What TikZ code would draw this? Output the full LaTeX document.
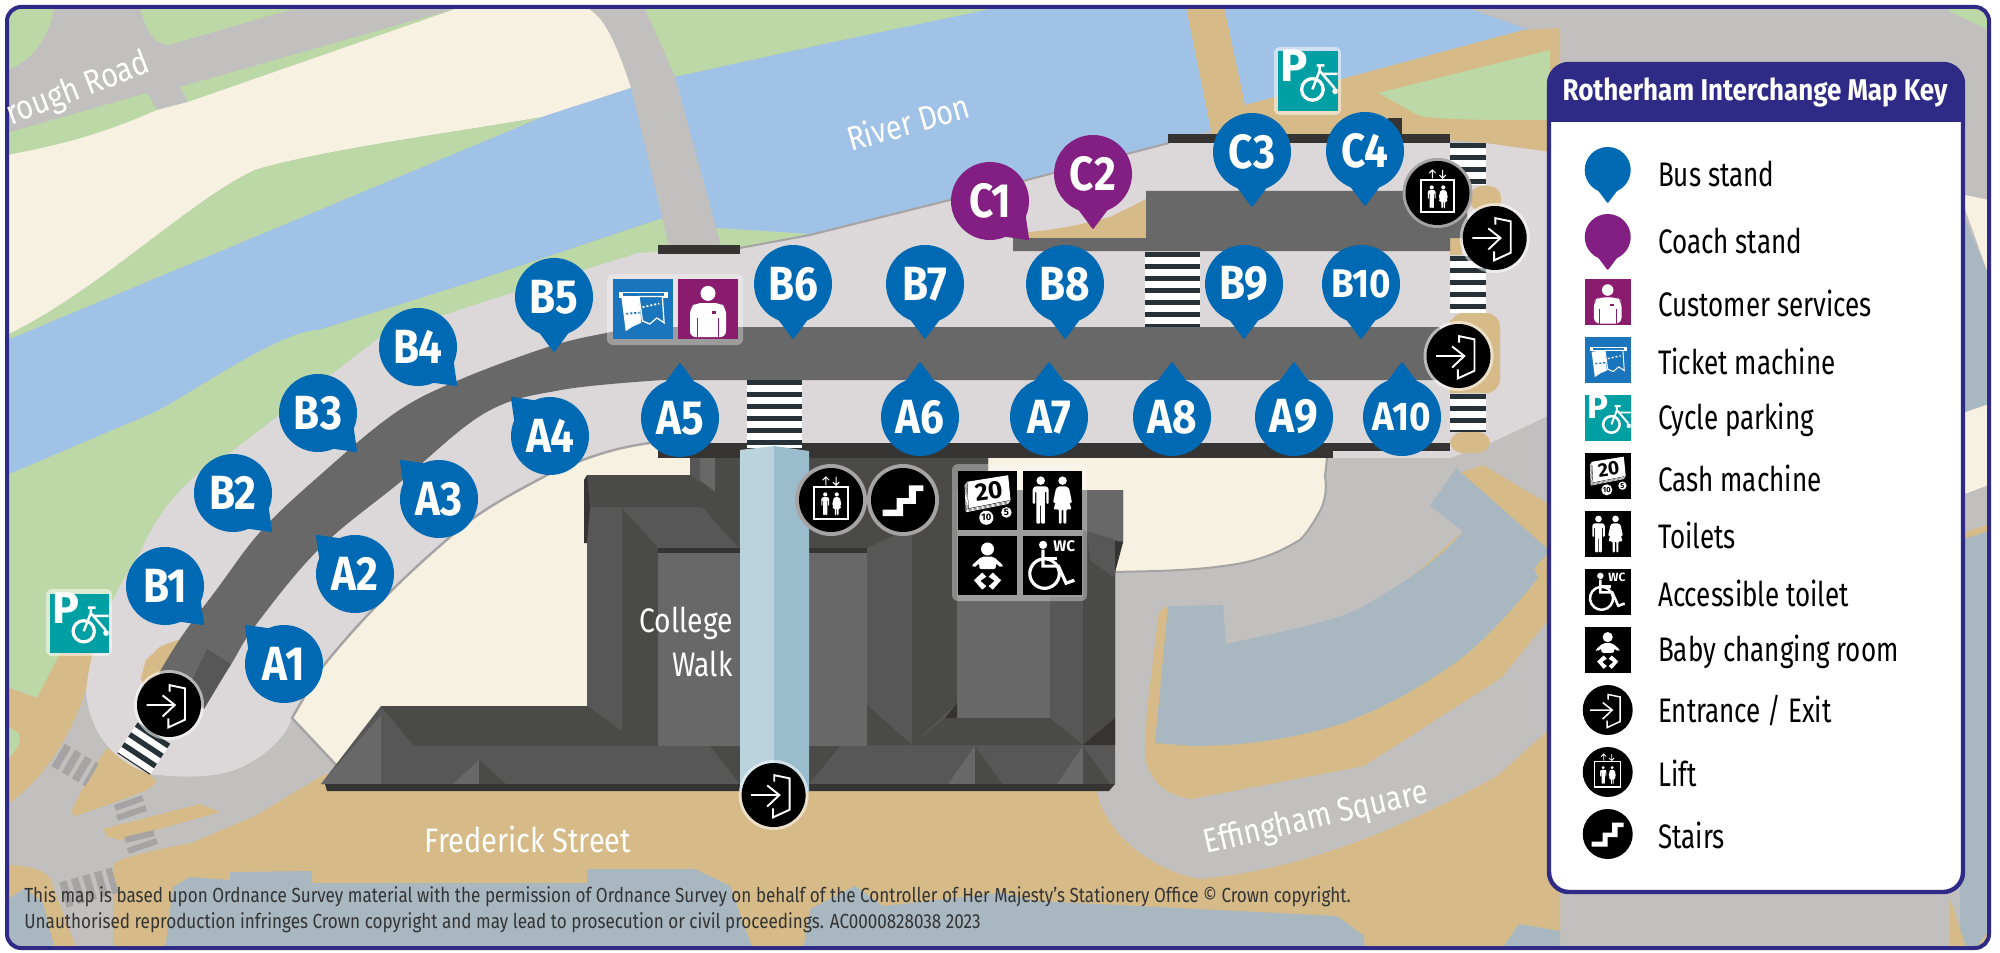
\documentclass[tikz,border=0pt]{standalone}
\usepackage{fontspec}
\setmainfont{Fira Sans}
\usetikzlibrary{calc}

\definecolor{roadgrey}{HTML}{C1C0BE}
\definecolor{parkgreen}{HTML}{BCD8A7}
\definecolor{creamland}{HTML}{F7F1E1}
\definecolor{riverblue}{HTML}{A1C2E7}
\definecolor{pavetan}{HTML}{D6BB88}
\definecolor{platform}{HTML}{DCD7D8}
\definecolor{slateblue}{HTML}{A9B7C0}
\definecolor{edgegrey}{HTML}{A5A3A3}
\definecolor{roofa}{HTML}{686868}
\definecolor{roofb}{HTML}{575757}
\definecolor{roofc}{HTML}{4A4A48}
\definecolor{roofd}{HTML}{353432}
\definecolor{glassa}{HTML}{BAD3DD}
\definecolor{glassb}{HTML}{9ABCCD}
\definecolor{zebradark}{HTML}{263238}
\definecolor{busblue}{HTML}{0069B4}
\definecolor{coachpurple}{HTML}{831F82}
\definecolor{servpurple}{HTML}{8A1C6E}
\definecolor{ticketblue}{HTML}{1A75BC}
\definecolor{cycleteal}{HTML}{009FA3}
\definecolor{navy}{HTML}{2E2A86}

% text squeezed sideways, as the map font is narrow
\newcommand{\nar}[2]{\scalebox{#1}[1]{#2}}
% zebra crossing: width, start, end
\newcommand{\zebra}[3]{\draw[white,line width=#1] #2 -- #3; \draw[zebradark,line width=#1,dash pattern=on 2.7pt off 3.3pt] #2 -- #3;}
% stand pin: name, x, y, tip angle, colour, size, label
\newcommand{\standpin}[6]{%
  \fill[#5,line join=round,line width=1pt,draw=#5] (#2,#3) ++(#4-27:#6*0.92) -- ($(#2,#3)+(#4:#6*1.38)$) -- ($(#2,#3)+(#4+27:#6*0.92)$) -- cycle;
  \node[circle,inner sep=0pt,fill=#5,minimum size=#6*1pt] (#1) at (#2,#3) {};}
% icon: pic name, x, y, size
\newcommand{\icon}[4]{\pgfmathsetlengthmacro{\iconlw}{#4*0.015}\pic[scale=#4/100] at (#2,#3) {#1};}
\newcommand{\manfig}[3]{\begin{scope}[shift={(#1,#2)},scale=#3]
  \fill[white] (0,-41) circle (9);
  \fill[white,rounded corners=0.5pt] (-12,-29) -- (12,-29) -- (17,-24) -- (17,8) -- (12,8) -- (12,-18) -- (9,-18) -- (9,50) -- (1,50) -- (1,10) -- (-1,10) -- (-1,50) -- (-9,50) -- (-9,-18) -- (-12,-18) -- (-12,8) -- (-17,8) -- (-17,-24) -- cycle;
\end{scope}}
\newcommand{\womanfig}[3]{\begin{scope}[shift={(#1,#2)},scale=#3]
  \fill[white] (0,-41) circle (9);
  \fill[white,rounded corners=0.5pt] (-8,-29) -- (8,-29) -- (14,-24) -- (20,5) -- (15,7) -- (9,-15) -- (19,20) -- (8,20) -- (8,50) -- (2,50) -- (2,20) -- (-2,20) -- (-2,50) -- (-8,50) -- (-8,20) -- (-19,20) -- (-9,-15) -- (-15,7) -- (-20,5) -- (-14,-24) -- cycle;
\end{scope}}

\tikzset{
  backpanel/.style={fill=white,fill opacity=0.35,rounded corners=3pt},
  maplabel/.style={text=white,inner sep=0pt,font=\fontsize{17}{17}\selectfont},
  pinlabel/.style={text=white,inner sep=0pt,font=\fontsize{24}{24}\selectfont\bfseries},
  keylabel/.style={anchor=west,inner sep=0pt,font=\fontsize{17}{17}\selectfont},
  ringgrey/.style={fill=edgegrey},
  ringpale/.style={fill=white,fill opacity=0.55},
  doorpic/.pic={
    \fill[black] (0,0) circle (50);
    \draw[white,line width=\iconlw] (-35,0) -- (9,0) (-10,-15) -- (9,0) -- (-10,18);
    \draw[white,line width=\iconlw] (1,-21) -- (1,-31) -- (25,-26) -- (25,23) -- (-1,35) -- (-1,21);
  },
  liftpic/.pic={
    \fill[black] (0,0) circle (50);
    \draw[white,line width=\iconlw] (-26,-21) rectangle (26,30);
    \manfig{-9}{6}{.36}
    \womanfig{9}{6}{.36}
    \draw[white,line width=0.5*\iconlw] (-8,-36) -- (-8,-23) (-13,-31) -- (-8,-36) -- (-3,-31);
    \draw[white,line width=0.5*\iconlw] (8,-36) -- (8,-23) (3,-28) -- (8,-23) -- (13,-28);
  },
  stairpic/.pic={
    \fill[black] (0,0) circle (50);
    \fill[white] (-32,15) -- (-10,15) -- (-10,-3) -- (9,-3) -- (9,-23) -- (32,-23) -- (32,-14) -- (20,-14) -- (20,6) -- (0,6) -- (0,25) -- (-32,25) -- cycle;
  },
  servpic/.pic={
    \fill[servpurple] (-50,-50) rectangle (50,50);
    \fill[white] (0,-26) circle (12.5);
    \fill[white,rounded corners=3pt] (-30,47) -- (-30,-2) -- (-20,-10) -- (20,-10) -- (30,-2) -- (30,47) -- cycle;
    \draw[servpurple,line width=0.6*\iconlw] (-18,47) -- (-18,15) (18,47) -- (18,15);
    \fill[servpurple] (6,4) rectangle (14,8);
  },
  ticketpic/.pic={
    \fill[ticketblue] (-50,-50) rectangle (50,50);
    \fill[white] (-39,-28) rectangle (42,-19);
    \fill[ticketblue] (-33,-26) rectangle (36,-22);
    \fill[white] (-35,-18) -- (-6,-21) -- (-2,23) -- (-16,29) -- (-28,37) -- cycle;
    \draw[white,line width=0.7*\iconlw,fill=ticketblue] (-6,-21) -- (33,-21) -- (36,23) -- (24,15) -- (12,25) -- (0,20) -- cycle;
    \draw[white,line width=\iconlw,dash pattern=on 1pt off 1pt] (0,-3) -- (28,-9);
    \draw[ticketblue,line width=\iconlw,dash pattern=on 1pt off 1pt] (-27,8) -- (-5,6);
  },
  cyclepic/.pic={
    \fill[cycleteal] (-50,-50) rectangle (50,50);
    \node[transform shape,text=white,inner sep=0pt,font=\fontsize{38}{38}\selectfont\bfseries] (cycleP) at (-22,-25) {P};
    \begin{scope}
      \clip (-50,-50) rectangle (50,50);
      \draw[white,line width=1.8*\iconlw] (8,14) circle (18);
      \draw[white,line width=1.4*\iconlw] (8,14) -- (20,-17) -- (45,12) (15,-26) -- (28,-26) (20,-26) -- (20,-17) (23,-12) -- (50,-12);
      \fill[white] (46,17) circle (5);
    \end{scope}
  },
  cashpic/.pic={
    \fill[black] (-50,-50) rectangle (50,50);
    \foreach \dd in {6,4,2}{
      \draw[white,fill=black,line width=0.4*\iconlw] ($(-34,-31)+(-\dd*.7,\dd)$) -- ($(35,-42)+(-\dd*.7,\dd)$) -- ($(39,0)+(-\dd*.7,\dd)$) -- ($(-32,14)+(-\dd*.7,\dd)$) -- cycle;}
    \fill[white] (-34,-31) -- (35,-42) -- (39,0) -- (-32,14) -- cycle;
    \node[transform shape,rotate=8,text=black,inner sep=0pt,font=\fontsize{21}{21}\selectfont\bfseries] (cash20) at (2,-15) {20};
    \node[transform shape,circle,fill=white,inner sep=0pt,minimum size=12pt,text=black,font=\fontsize{8}{8}\selectfont\bfseries] (cash10) at (-2,30) {10};
    \node[transform shape,circle,fill=white,inner sep=0pt,minimum size=9pt,text=black,font=\fontsize{8}{8}\selectfont\bfseries] (cash5) at (32,21) {5};
  },
  toiletpic/.pic={
    \fill[black] (-50,-50) rectangle (50,50);
    \manfig{-20}{0}{.8}
    \womanfig{17}{0}{.8}
  },
  babypic/.pic={
    \fill[black] (-50,-50) rectangle (50,50);
    \fill[white] (0,-28) circle (11);
    \fill[white,rounded corners=1pt] (-10,-15) -- (10,-15) -- (27,0) -- (23,4) -- (14,-4) -- (14,6) -- (-14,6) -- (-14,-4) -- (-23,4) -- (-27,0) -- cycle;
    \fill[white] (-23,25) -- (-9,12) -- (-2,19) -- (-12,26) -- (-2,35) -- (-9,41) -- cycle;
    \fill[white] (23,25) -- (9,12) -- (2,19) -- (12,26) -- (2,35) -- (9,41) -- cycle;
  },
  wheelpic/.pic={
    \fill[black] (-50,-50) rectangle (50,50);
    \fill[white] (-16,-35) circle (7);
    \draw[white,line width=1.8*\iconlw] (-16,-27) -- (-16,1) -- (10,1) -- (23,30) -- (37,25);
    \draw[white,line width=1.8*\iconlw] (-16,-12) -- (8,-12);
    \draw[white,line width=1.8*\iconlw] (-26,-8) arc (-120:240:25);
    \node[transform shape,text=white,inner sep=0pt,font=\fontsize{13}{13}\selectfont\bfseries] (wcmark) at (20,-32) {WC};
  }
}

\begin{document}
\begin{tikzpicture}[x=0.5pt,y=-0.5pt]
  \useasboundingbox (0,0) rectangle (2000,952);
  \fill[white] (0,0) rectangle (2000,952);

  \begin{scope}
    \clip[rounded corners=7pt] (7,7) rectangle (1989,948);
    \fill[roadgrey] (0,0) rectangle (2000,952);

    %land north of the river
    \fill[parkgreen] (7,7) -- (54,7) .. controls (50,35) and (35,60) .. (7,70) -- cycle;
    \fill[parkgreen] (140,7) .. controls (145,30) and (155,45) .. (169,45) -- (299,7) -- cycle;
    \fill[parkgreen] (7,133) -- (147,93) -- (157,110) .. controls (100,135) and (60,145) .. (7,155) -- cycle;
    \fill[parkgreen] (180,87) -- (461,7) -- (188,102) -- cycle;
    \fill[creamland] (7,155) .. controls (60,145) and (100,135) .. (157,110) -- (188,102) -- (461,7) -- (587,7) .. controls (600,15) and (612,30) .. (631,88) -- (542,117) .. controls (470,130) and (320,150) .. (255,170) .. controls (190,200) and (100,290) .. (7,335) -- cycle;
    \fill[parkgreen] (644,7) -- (1005,7) -- (829,43) -- (675,77) -- cycle;

    %the river and its south bank
    \fill[riverblue] (7,340) -- (319,210) -- (542,117) -- (631,88) -- (675,77) -- (829,43) -- (1000,7) -- (1464,7) -- (1530,30) -- (1245,120) -- (1169,143) -- (950,200) -- (810,235) -- (740,250) -- (663,218) -- (478,280) -- (319,330) -- (242,373) -- (153,413) -- (7,475) -- cycle;
    \fill[parkgreen] (7,475) -- (153,413) .. controls (190,395) and (280,330) .. (319,330) -- (478,280) -- (663,218) -- (717,228) -- (810,234) -- (740,260) -- (400,500) -- (150,600) -- (38,698) -- (7,687) -- cycle;
    \fill[parkgreen] (7,340) -- (319,210) -- (542,117) .. controls (470,130) and (320,150) .. (255,170) .. controls (190,200) and (100,290) .. (7,335) -- cycle;

    %footbridge
    \fill[roadgrey] (587,7) -- (644,7) -- (675,77) -- (722,250) -- (670,250) -- (631,88) .. controls (620,40) and (610,25) .. (587,7) -- cycle;

    %paved paths, north east
    \fill[pavetan] (1186,7) -- (1224,7) -- (1245,105) -- (1338,80) -- (1523,30) -- (1560,28) -- (1560,155) -- (1485,143) -- (1450,140) -- (1213,140) -- cycle;
    \fill[parkgreen] (1378,93) -- (1550,50) -- (1550,120) .. controls (1490,120) and (1430,120) .. (1418,115) -- cycle;

    %margin right of the key
    \fill[parkgreen] (1950,7) -- (1989,7) -- (1989,30) -- (1950,12) -- cycle;
    \fill[slateblue] (1960,207) -- (1989,276) -- (1989,950) -- (1960,950) -- cycle;
    \fill[creamland] (1960,194) -- (1989,200) -- (1989,276) -- (1965,209) -- (1960,203) -- cycle;
    \fill[creamland] (1960,414) -- (1989,404) -- (1989,485) -- (1960,496) -- cycle;
    \fill[roadgrey] (1960,496) -- (1989,485) -- (1989,524) -- (1960,534) -- cycle;
    \fill[pavetan] (1960,534) -- (1989,524) -- (1989,531) -- (1960,540) -- cycle;
    \fill[pavetan] (1950,899) -- (1967,950) -- (1950,950) -- cycle;
    \fill[pavetan] (1975,950) -- (1989,930) -- (1989,950) -- cycle;

    %paved land, south west and south
    \fill[pavetan] (7,687) -- (37,698) -- (62,650) -- (85,610) -- (100,610) -- (89,676) .. controls (80,720) and (50,775) .. (7,805) -- cycle;
    \fill[parkgreen] (7,726) .. controls (15,730) and (22,735) .. (20,740) .. controls (18,748) and (12,755) .. (7,760) -- cycle;
    \fill[pavetan] (107,748) -- (118,755) -- (150,774) -- (157,782) -- (147,790) -- (113,803) -- (75,816) -- (71,812) -- (90,773) -- cycle;
    \fill[pavetan] (103,829) -- (200,804) -- (220,812) -- (120,840) -- (108,837) -- cycle;
    \fill[pavetan] (113,950) -- (113,865) .. controls (113,860) and (150,850) .. (191,843) -- (255,816) -- (325,774) -- (1096,785) .. controls (1100,830) and (1150,870) .. (1199,879) .. controls (1300,870) and (1400,830) .. (1497,776) -- (1560,720) -- (1560,950) -- cycle;
    \fill[pavetan] (7,865) .. controls (25,865) and (45,870) .. (50,878) -- (77,950) -- (7,950) -- cycle;

    %slate areas
    \fill[slateblue] (7,900) -- (25,888) -- (43,903) -- (55,950) -- (7,950) -- cycle;
    \fill[slateblue] (165,950) -- (173,887) -- (190,877) -- (230,880) -- (230,872) -- (312,871) -- (312,883) -- (587,883) -- (587,869) -- (695,869) -- (730,886) -- (753,950) -- cycle;
    \fill[slateblue] (803,950) -- (810,909) -- (855,886) -- (883,906) -- (1000,893) -- (1038,901) -- (1337,916) -- (1364,936) -- (1365,950) -- cycle;
    \fill[slateblue] (1501,950) -- (1519,924) -- (1560,931) -- (1560,950) -- cycle;

    %crossings on the road
    \draw[edgegrey,line width=13pt,dash pattern=on 3.7pt off 2.3pt] (58,755) -- (92,775);
    \draw[edgegrey,line width=3pt] (115,808) -- (143,798) (117,818) -- (146,808) (125,840) -- (154,833) (128,851) -- (157,841);
    \draw[edgegrey,line width=13pt,dash pattern=on 3.7pt off 2.3pt] (63,895) -- (115,880);

    %Effingham Square
    \fill[pavetan] (1168,606) -- (1159,612) -- (1147,709) -- (1145,753) .. controls (1147,780) and (1165,795) .. (1191,799) -- (1364,766) -- (1501,678) -- (1550,618) -- (1550,505) -- (1483,465) -- (1451,476) -- (1463,531) -- (1364,620) -- (1226,650) -- (1223,620) -- cycle;
    \fill[slateblue] (1168,606) -- (1223,605) -- (1226,644) .. controls (1290,630) and (1340,620) .. (1364,606) .. controls (1400,585) and (1440,560) .. (1463,531) -- (1430,506) -- (1456,468) -- (1465,476) -- (1550,551) -- (1534,568) -- (1538,578) .. controls (1500,625) and (1470,655) .. (1440,673) .. controls (1400,700) and (1370,712) .. (1344,723) .. controls (1290,740) and (1240,746) .. (1191,746) -- (1155,743) -- cycle;

    %the platform
    \fill[platform] (150,774) .. controls (110,760) and (90,730) .. (86,693) .. controls (90,640) and (115,590) .. (140,553) .. controls (160,505) and (195,470) .. (230,453) -- (376,340) .. controls (400,325) and (430,320) .. (459,310) -- (542,283) -- (638,253) -- (740,248) -- (810,235) -- (950,200) -- (1169,143) -- (1485,143) -- (1550,152) -- (1550,415) -- (1490,443) -- (1450,458) -- (650,458) -- (650,443) .. controls (620,447) and (590,455) .. (547,475) .. controls (510,495) and (480,510) .. (450,537) .. controls (400,580) and (360,620) .. (320,670) -- (292,718) .. controls (285,740) and (260,760) .. (235,770) .. controls (210,778) and (180,778) .. (150,774) -- cycle;
    \draw[edgegrey,line width=1pt] (740,248) -- (810,235) -- (950,200) -- (1169,143);

    %cream ground by the buildings
    \fill[creamland] (292,718) -- (320,670) .. controls (360,620) and (400,580) .. (450,537) .. controls (480,510) and (510,495) .. (547,475) .. controls (590,455) and (620,447) .. (650,443) -- (760,443) -- (760,700) -- (345,790) -- (337,766) -- cycle;
    \draw[edgegrey,line width=1.2pt] (337,766) -- (292,718) -- (320,670) .. controls (360,620) and (400,580) .. (450,537) .. controls (480,510) and (510,495) .. (547,475) .. controls (590,455) and (620,447) .. (650,443);
    \fill[creamland] (980,450) -- (1327,450) -- (1325,476) .. controls (1327,490) and (1325,500) .. (1321,509) .. controls (1310,530) and (1300,541) .. (1298,541) .. controls (1280,552) and (1260,560) .. (1237,564) .. controls (1200,570) and (1170,571) .. (1110,572) -- (1000,572) -- cycle;
    \draw[edgegrey,line width=1pt] (1327,458) -- (1325,476) .. controls (1327,490) and (1325,500) .. (1321,509) .. controls (1310,530) and (1300,541) .. (1298,541) .. controls (1280,552) and (1260,560) .. (1237,564) .. controls (1200,570) and (1170,571) .. (1110,572);

    %tan patches on the platform
    \fill[pavetan] (1028,232) .. controls (1060,230) and (1090,222) .. (1110,217) .. controls (1120,212) and (1135,205) .. (1146,199) -- (1146,240) -- (1028,240) -- cycle;
    \fill[pavetan,rounded corners=7pt] (1450,313) -- (1500,313) -- (1500,393) -- (1450,393) -- cycle;
    \fill[pavetan] (1450,320) rectangle (1470,393);
    \fill[pavetan,rounded corners=6pt] (1450,432) -- (1490,432) -- (1490,453) -- (1450,453) -- cycle;
    \fill[pavetan,rounded corners=6pt] (1470,186) -- (1501,186) -- (1501,212) -- (1470,212) -- cycle;
    \fill[pavetan] (1450,238) -- (1462,238) -- (1462,255) -- (1450,255) -- cycle;
    \fill[pavetan,rounded corners=8pt] (142,690) -- (140,668) -- (150,655) -- (168,640) -- (190,640) -- (170,710) -- cycle;

    %bus roads
    \fill[roofa] (1440,327) -- plot[smooth,tension=.6] coordinates {(644,327) (606,333) (548,347) (459,380) (395,413) (319,476) (261,531) (217,589) (182,636) (159,673)} -- plot[smooth,tension=.6] coordinates {(204,703) (230,666) (255,626) (319,549) (399,483) (485,413) (561,390) (663,380)} -- (1440,380) -- cycle;
    \fill[roofb] (207,649) -- (231,664) -- (204,709) -- (185,695) -- cycle;
    \fill[roofa] (1146,191) -- (1440,191) -- (1466,205) -- (1470,238) -- (1450,238) -- (1450,251) -- (1013,251) -- (1013,238) -- (1146,238) -- cycle;

    %walls along the north and south edges
    \fill[roofd] (658,245) rectangle (740,254);
    \fill[roofd] (1168,134) rectangle (1450,143);
    \fill[roofd] (1388,118) rectangle (1402,134);
    \fill[roofd] (658,443) rectangle (1333,458);
    \fill[roofd] (1333,443) rectangle (1450,451);

    %crossings on the platform
    \zebra{27.5pt}{(774,380)}{(774,448)}
    \zebra{27.5pt}{(1172.5,252)}{(1172.5,327)}
    \zebra{18pt}{(1468,143)}{(1468,185)}
    \zebra{18pt}{(1468,256)}{(1468,313)}
    \zebra{18pt}{(1468,394)}{(1468,432)}
    \zebra{19.5pt}{(154,733)}{(133.5,764)}

    %the building roofs
    \fill[roofb] (321,784) -- (381,706) -- (587,706) -- (587,475) -- (690,475) -- (690,458) -- (988,458) -- (988,490) -- (1123,490) -- (1123,542) -- (1115,572) -- (1115,784) -- cycle;
    \fill[roofa] (321,784) -- (381,715) -- (381,784) -- cycle;
    \fill[roofc] (381,706) -- (587,706) -- (622,731) -- (658,707) -- (658,746) -- (414,746) -- cycle;
    \fill[roofa] (453,784) -- (479,760) -- (479,784) -- cycle;
    \fill[roofc] (479,760) -- (506,784) -- (479,784) -- cycle;
    \fill[roofc] (622,508) -- (658,548) -- (658,707) -- (622,731) -- cycle;
    \fill[roofc] (587,475) -- (690,475) -- (715,492) -- (702,507) -- (590,507) -- cycle;
    \fill[roofd] (584,480) -- (587,475) -- (590,507) -- (587,543) -- (584,543) -- cycle;
    \fill[roofd] (658,548) rectangle (740,553);
    \fill[roofa] (658,553) rectangle (740,746);
    \fill[roofa] (700,458) -- (715,458) -- (715,491) -- (700,480) -- cycle;
    \fill[roofc] (715,458) -- (739,458) -- (739,548) -- (702,507) -- (715,492) -- cycle;
    \fill[roofc] (710,746) -- (740,784) -- (740,746) -- cycle;
    \fill[roofc] (809,458) -- (988,458) -- (988,540) -- (957,570) -- (912,527) -- (867,548) -- (809,548) -- cycle;
    \fill[roofd] (809,548) rectangle (867,553);
    \fill[roofa] (809,553) rectangle (867,746);
    \fill[roofc] (912,527) -- (957,570) -- (957,703) -- (912,745) -- cycle;
    \fill[roofc] (867,705) -- (912,745) -- (867,745) -- cycle;
    \fill[roofa] (957,490) rectangle (1050,718);
    \fill[roofa] (1050,490) -- (1123,490) -- (1123,542) -- (1083,530) -- (1083,597) -- (1050,597) -- cycle;
    \fill[roofc] (1083,530) -- (1115,545) -- (1115,718) -- (1083,745) -- cycle;
    \fill[roofb] (1087,532) -- (1115,545) -- (1115,578) -- (1090,560) -- cycle;
    \fill[roofd] (1115,541) -- (1123,542) -- (1115,572) -- cycle;
    \fill[roofc] (912,745) -- (945,718) -- (1050,718) -- (1083,745) -- cycle;
    \fill[roofd] (1083,745) -- (1115,718) -- (1115,745) -- cycle;
    \fill[roofd] (945,718) -- (957,703) -- (957,718) -- cycle;
    \fill[roofc] (809,746) -- (840,746) -- (809,784) -- cycle;
    \fill[roofa] (948,784) -- (975,746) -- (975,784) -- cycle;
    \fill[roofc] (975,746) -- (1002,784) -- (975,784) -- cycle;
    \fill[roofa] (1057,784) -- (1083,746) -- (1083,784) -- cycle;
    \fill[roofc] (1083,746) -- (1110,784) -- (1083,784) -- cycle;
    \fill[roofd] (325,784) -- (1115,784) -- (1109,791) -- (327,791) -- cycle;

    %glass walkway
    \fill[glassa] (740,450) -- (774,446) -- (774,792) -- (740,792) -- cycle;
    \fill[glassb] (774,446) -- (809,451) -- (809,792) -- (774,792) -- cycle;
  \end{scope}

  %frame
  \draw[navy,line width=2pt,rounded corners=7pt] (7,7) rectangle (1989,948);

  %stands
  \foreach \nm/\px/\py/\ang in {B1/165/586/45,B2/233/493/45,B3/318/413/45,B4/418/347/45,B5/554/297/90,B6/793/284/90,B7/925/284/90,B8/1065/284/90,B9/1244/284/90,C3/1252/152/90,C4/1365/151/90,A1/284/664/-135,A2/355/574/-135,A3/439/499/-135,A4/550/436/-135,A5/680/418/-90,A6/920/417/-90,A7/1049/417/-90,A8/1172/417/-90,A9/1294/417/-90}{
    \standpin{\nm}{\px}{\py}{\ang}{busblue}{39}
    \node[pinlabel] at (\nm) {\nar{.88}{\nm}};
  }
  \foreach \nm/\px/\py/\ang in {B10/1361/284/90,A10/1402/417/-90}{
    \standpin{\nm}{\px}{\py}{\ang}{busblue}{39}
    \node[pinlabel,font=\fontsize{20}{20}\selectfont\bfseries] at (\nm) {\nar{.92}{\nm}};
  }
  \foreach \nm/\px/\py/\ang in {C1/990/201/45,C2/1093/174/90}{
    \standpin{\nm}{\px}{\py}{\ang}{coachpurple}{39}
    \node[pinlabel] at (\nm) {\nar{.88}{\nm}};
  }

  %service signs on the map
  \fill[backpanel] (607,274) rectangle (743,345);
  \icon{ticketpic}{642.5}{309}{60}
  \icon{servpic}{708}{309}{60}
  \fill[backpanel,fill opacity=0.5] (46,589) rectangle (112,656);
  \icon{cyclepic}{79}{623}{59}
  \fill[backpanel,fill opacity=0.5] (1274,47) rectangle (1341,115);
  \icon{cyclepic}{1307.6}{81}{60}
  \fill[backpanel] (952,464) rectangle (1087,601);
  \icon{cashpic}{987.5}{500}{59}
  \icon{toiletpic}{1052.5}{500}{59}
  \icon{babypic}{987.5}{565.5}{59}
  \icon{wheelpic}{1052.5}{565.5}{59}

  %round signs: ring first, then the sign
  \fill[ringgrey] (831,500) circle (36);
  \icon{liftpic}{831}{500}{64}
  \fill[ringgrey] (903,500) circle (36);
  \icon{stairpic}{903}{500}{64}
  \fill[ringgrey] (1437.5,193) circle (35);
  \icon{liftpic}{1437.5}{193}{64}
  \fill[ringpale] (1494.7,238) circle (35);
  \icon{doorpic}{1494.7}{238}{64}
  \fill[ringpale] (1458.5,356) circle (35);
  \icon{doorpic}{1458.5}{356}{64}
  \fill[ringpale] (773.6,795) circle (35);
  \icon{doorpic}{773.6}{795}{64}
  \fill[ringpale] (169,705) circle (35);
  \icon{doorpic}{169}{705}{64}

  %street names
  \node[maplabel,rotate=21] (boroughroad) at (78,90) {\nar{.85}{rough Road}};
  \node[maplabel,rotate=16] (riverdon) at (908,122) {\nar{.845}{River Don}};
  \node[maplabel] (frederick) at (528,839) {\nar{.85}{Frederick Street}};
  \node[maplabel,rotate=13] (effingham) at (1316,819) {\nar{.845}{Effingham Square}};
  \node[maplabel,anchor=east] (college) at (733,623) {\nar{.83}{College}};
  \node[maplabel,anchor=east] (walk) at (733,664) {\nar{.83}{Walk}};

  %copyright lines
  \node[anchor=west,inner sep=0pt,text=black!80,font=\fontsize{10.2}{10.2}\selectfont] (copyone) at (24,897) {\nar{.838}{This map is based upon Ordnance Survey material with the permission of Ordnance Survey on behalf of the Controller of Her Majesty's Stationery Office © Crown copyright.}};
  \node[anchor=west,inner sep=0pt,text=black!80,font=\fontsize{10.2}{10.2}\selectfont] (copytwo) at (24,923) {\nar{.838}{Unauthorised reproduction infringes Crown copyright and may lead to prosecution or civil proceedings. AC0000828038 2023}};

  %key
  \fill[white,rounded corners=10pt] (1549,64) rectangle (1963,892);
  \fill[navy,rounded corners=10pt] (1549,64) -- (1963,64) -- (1963,122) -- (1549,122) -- cycle;
  \fill[navy] (1549,100) rectangle (1963,122);
  \draw[navy,line width=2.2pt,rounded corners=10pt] (1549,64) rectangle (1963,892);
  \node[text=white,inner sep=0pt,font=\fontsize{15}{15}\selectfont\bfseries] (keytitle) at (1755,92) {\nar{.866}{Rotherham Interchange Map Key}};
  \standpin{keybus}{1607.7}{170}{90}{busblue}{23}
  \standpin{keycoach}{1607.7}{237}{90}{coachpurple}{23}
  \icon{servpic}{1607.7}{302}{46}
  \icon{ticketpic}{1607.7}{360}{46}
  \icon{cyclepic}{1607.7}{418}{46}
  \icon{cashpic}{1607.7}{476}{46}
  \icon{toiletpic}{1607.7}{534}{46}
  \icon{wheelpic}{1607.7}{592}{46}
  \icon{babypic}{1607.7}{650}{46}
  \icon{doorpic}{1607.7}{710}{50}
  \icon{liftpic}{1607.7}{772}{50}
  \icon{stairpic}{1607.7}{834}{50}
  \foreach \ky/\lbl [count=\i] in {174/Bus stand,241/Coach stand,303/Customer services,361/Ticket machine,420/Cycle parking,478/Cash machine,535.5/Toilets,593/Accessible toilet,652/Baby changing room,711/{Entrance / Exit},773/Lift,835/Stairs}{
    \node[keylabel] (keyrow\i) at (1657.7,\ky) {\nar{.765}{\lbl}};
  }
\end{tikzpicture}
\end{document}
